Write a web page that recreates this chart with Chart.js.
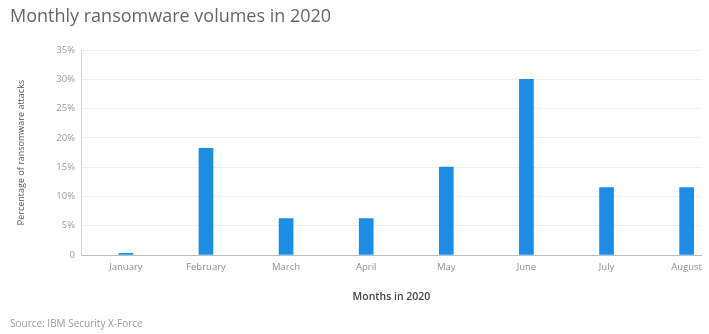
<!DOCTYPE html>
<html>
<head>
<meta charset="utf-8">
<script src="https://cdn.jsdelivr.net/npm/chart.js@4/dist/chart.umd.min.js"></script>
<style>
    html, body { margin: 0; padding: 0; background: #ffffff; }
    #wrap { width: 709px; height: 334px; }
</style>
</head>
<body>
<div id="wrap"><canvas id="myChart" width="709" height="334"></canvas></div>
<script>
const months = ['January', 'February', 'March', 'April', 'May', 'June', 'July', 'August'];
const shares = [0.3, 18.2, 6.2, 6.2, 15.0, 30.0, 11.5, 11.5];
const yTicks = [0, 5, 10, 15, 20, 25, 30, 35];

const ctx = document.getElementById('myChart');
const myChart = new Chart(ctx, {
    type: 'bar',
    data: {
        datasets: [{
            label: 'Percentage of ransomware attacks',
            data: months.map((m, i) => ({x: i, y: shares[i]})),
            backgroundColor: '#1c8de6',
            borderWidth: 0,
            barThickness: 14
        }]
    },
    options: {
        responsive: false,
        animation: false,
        layout: {
            padding: {left: 10, right: 0, top: 6, bottom: 4}
        },
        scales: {
            x: {
                type: 'linear',
                offset: false,
                bounds: 'data',
                min: -0.56,
                max: 7.19,
                afterBuildTicks: (scale) => {
                    scale.ticks = months.map((m, i) => ({value: i}));
                },
                afterFit: (scale) => { scale.height = 63; },
                grid: {display: false, drawTicks: false},
                border: {display: true, color: '#bdbdbd', width: 1},
                ticks: {
                    padding: 7,
                    color: '#8f8f8f',
                    font: {family: "'Open Sans', sans-serif", size: 9.5},
                    callback: (v) => months[v]
                },
                title: {
                    display: true,
                    text: 'Months in 2020',
                    color: '#444444',
                    font: {family: "'Open Sans', sans-serif", size: 10.5, weight: '600'},
                    padding: {top: 4, bottom: 15}
                }
            },
            y: {
                min: 0,
                max: 35,
                afterBuildTicks: (scale) => {
                    scale.ticks = yTicks.map(v => ({value: v}));
                },
                afterFit: (scale) => { scale.width = 71; },
                grid: {color: '#efefef', drawTicks: false},
                border: {display: true, color: '#d6d6d6', width: 1},
                ticks: {
                    padding: 6,
                    color: '#9a9a9a',
                    font: {family: "'Open Sans', sans-serif", size: 9.5},
                    callback: (v) => v === 0 ? '0' : v + '%'
                },
                title: {
                    display: true,
                    text: 'Percentage of ransomware attacks',
                    color: '#555555',
                    font: {family: "'Open Sans', sans-serif", size: 9},
                    padding: {top: 6, bottom: 0}
                }
            }
        },
        plugins: {
            legend: {display: false},
            tooltip: {enabled: false},
            title: {
                display: true,
                text: 'Monthly ransomware volumes in 2020',
                align: 'start',
                color: '#666666',
                font: {family: "'Open Sans', sans-serif", size: 18, weight: 'normal'},
                padding: {top: 0, bottom: 22.4}
            },
            subtitle: {
                display: true,
                position: 'bottom',
                align: 'start',
                text: 'Source: IBM Security X-Force',
                color: '#9a9a9a',
                font: {family: "'Open Sans', sans-serif", size: 10},
                padding: {top: 0, bottom: 0}
            }
        }
    }
});
</script>
</body>
</html>
